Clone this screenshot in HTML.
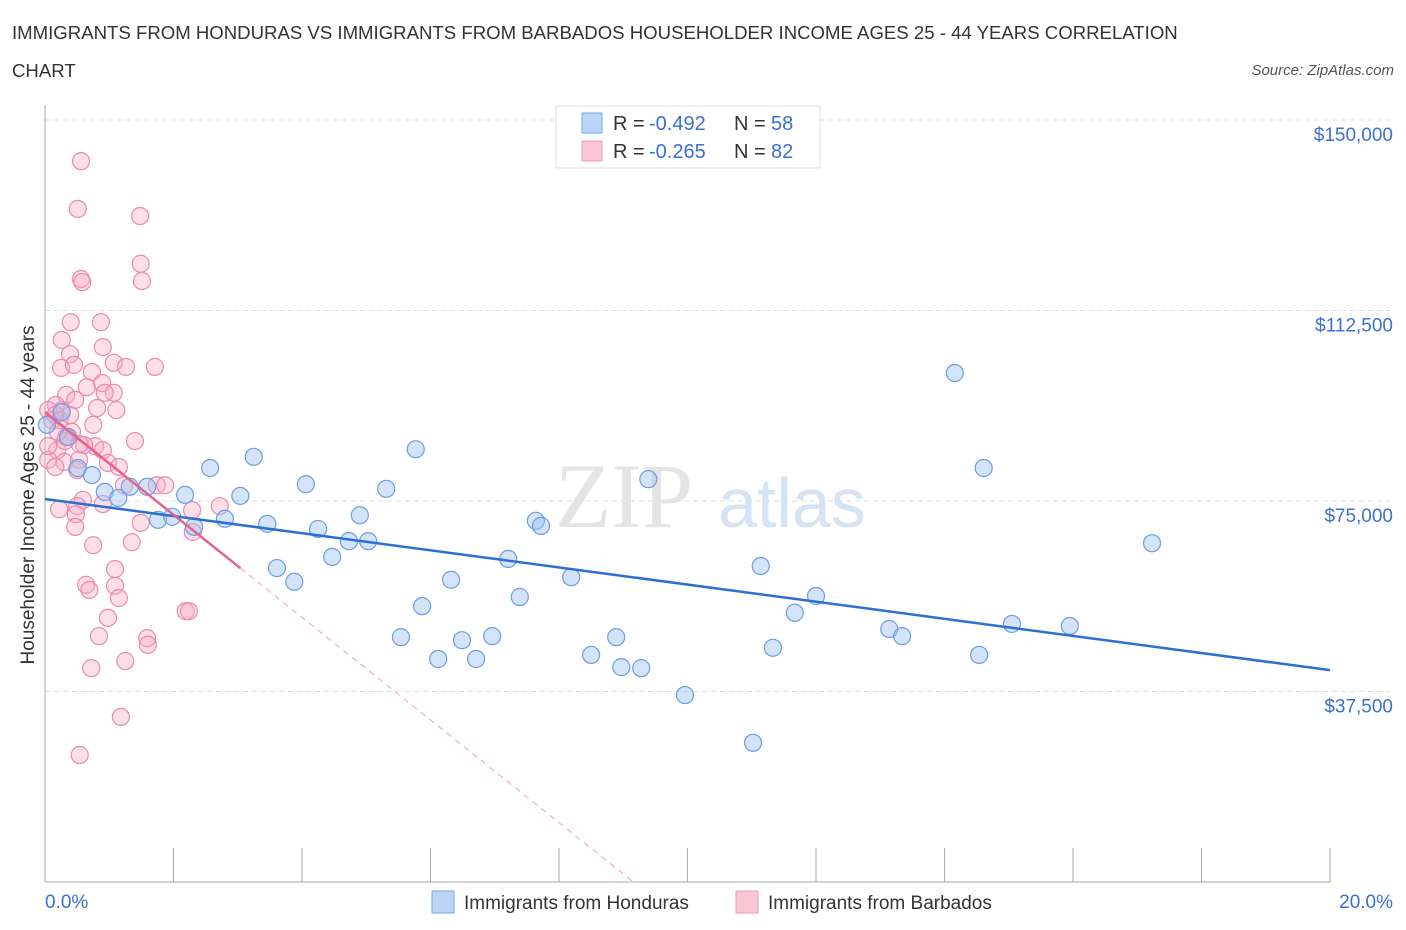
<!DOCTYPE html>
<html><head><meta charset="utf-8">
<style>
body{margin:0;background:#fff;font-family:"Liberation Sans",sans-serif;}
.wrap{position:relative;width:1406px;height:930px;overflow:hidden;}
.title{position:absolute;left:12px;top:14px;font-size:18.6px;color:#333;line-height:38px;width:1195px;}
.src{position:absolute;right:12px;top:62px;font-size:15px;color:#555;font-style:italic;}
</style></head>
<body>
<div class="wrap">
<div class="title">IMMIGRANTS FROM HONDURAS VS IMMIGRANTS FROM BARBADOS HOUSEHOLDER INCOME AGES 25 - 44 YEARS CORRELATION CHART</div>
<div class="src">Source: ZipAtlas.com</div>
<svg id="chart" width="1406" height="930" style="position:absolute;left:0;top:0"></svg>
</div>
<script>
const blueX=[0.03,0.26,0.36,0.51,0.73,0.93,1.14,1.32,1.59,1.76,1.98,2.18,2.32,2.57,2.80,3.04,3.25,3.46,3.61,3.88,4.06,4.25,4.47,4.73,4.90,5.03,5.31,5.54,5.77,5.87,6.12,6.32,6.49,6.71,6.96,7.21,7.39,7.64,7.72,8.19,8.50,8.89,8.97,9.28,9.39,9.96,11.02,11.14,11.33,11.67,12.00,13.14,13.34,14.16,14.54,14.61,15.05,15.95,17.23];
const blueY=[90.0,92.5,87.6,81.5,80.1,76.8,75.6,77.8,77.8,71.3,71.9,76.2,69.9,81.5,71.5,76.0,83.7,70.5,61.8,59.1,78.3,69.5,64.0,67.1,72.2,67.1,77.4,48.2,85.2,54.3,43.9,59.5,47.6,43.9,48.4,63.6,56.1,71.1,70.1,60.0,44.7,48.2,42.3,42.1,79.3,36.8,27.4,62.2,46.1,53.0,56.3,49.8,48.4,100.2,44.7,81.5,50.8,50.4,66.7];
const pinkX=[0.56,0.51,1.48,1.49,1.51,0.56,0.58,0.40,0.87,0.26,0.39,0.90,0.25,0.45,0.73,1.07,1.26,1.71,0.65,0.89,1.07,0.93,0.33,0.81,1.11,0.26,0.47,0.17,0.05,0.11,0.23,0.39,0.75,0.42,0.78,1.40,0.90,0.98,1.15,1.74,0.33,0.61,0.19,0.30,0.05,0.54,0.53,0.16,0.50,1.23,1.87,2.72,0.90,0.59,0.50,0.22,0.48,0.47,1.49,2.29,2.30,0.75,1.35,1.09,0.64,0.69,1.09,1.15,0.98,0.84,1.59,1.60,2.19,2.24,0.72,1.25,1.18,0.54,0.16,0.31,0.05,0.20];
const pinkY=[141.9,132.5,131.1,121.7,118.3,118.7,118.1,110.2,110.2,106.7,103.9,105.3,101.2,101.8,100.4,102.2,101.4,101.4,97.4,98.2,96.3,96.3,95.9,93.3,92.9,92.9,94.9,93.9,92.9,90.9,90.9,91.9,90.0,88.6,85.8,86.8,85.0,82.5,81.7,78.1,87.6,86.0,85.0,82.7,83.1,86.2,83.1,81.7,81.1,78.1,78.1,74.0,74.4,75.2,74.0,73.4,72.4,69.9,70.7,73.2,68.9,66.3,66.9,61.6,58.5,57.5,58.3,55.9,52.0,48.4,48.0,46.7,53.3,53.3,42.1,43.5,32.5,25.0,91.9,86.8,85.8,88.6];
const blueTrend=[75.4,-1.685];
const pinkTrend=[92.5,-10.1];
const pinkSolidEnd=3.04;
const yTicks=[37.5,75,112.5,150];
const yTickLabels=["$37,500","$75,000","$112,500","$150,000"];
const xTicks=[0,2,4,6,8,10,12,14,16,18,20];

const NS="http://www.w3.org/2000/svg";
const svg=document.getElementById('chart');
const X0=45,X1=1330,Y0=882;
const sx=v=>X0+(v/20)*(X1-X0);
const sy=v=>Y0-v*(190.5/37.5);
function mk(t,a,p){const e=document.createElementNS(NS,t);for(const k in a)e.setAttribute(k,a[k]);(p||svg).appendChild(e);return e;}

yTicks.forEach((t,i)=>{
 const g=mk('line',{x1:X0,x2:1390,y1:sy(t),y2:sy(t),stroke:'#ddd','stroke-dasharray':'5,4'});
 
 
 const tx=mk('text',{x:1393,y:sy(t)+21,'text-anchor':'end','font-size':19,fill:'#3b6fd4','font-family':'Liberation Sans, sans-serif'});
 tx.textContent=yTickLabels[i];
 
 
});
const ax=mk('line',{x1:X0,x2:X0,y1:105,y2:Y0,stroke:'#aaa'});


const axx=mk('line',{x1:X0,x2:X1,y1:Y0,y2:Y0,stroke:'#aaa'});


xTicks.forEach(t=>{
 const l=mk('line',{x1:sx(t),x2:sx(t),y1:Y0,y2:Y0-(t===0?0:34),stroke:'#aaa'});
 
 
});
const xl=mk('text',{x:45,y:908,'font-size':19,fill:'#3b6fd4'});xl.textContent='0.0%';


const xr=mk('text',{x:1393,y:908,'font-size':19,fill:'#3b6fd4','text-anchor':'end'});xr.textContent='20.0%';


const yt=mk('text',{transform:'translate(34,495) rotate(-90)','text-anchor':'middle','font-size':19,fill:'#333'});yt.textContent='Householder Income Ages 25 - 44 years';


const wm=mk('text',{x:555,y:527,'font-size':92,fill:'#e4e4e4','font-family':'Liberation Serif, serif'});wm.textContent='ZIP';


const wm2=mk('text',{x:718,y:527,'font-size':70,fill:'#d6e3f5'});wm2.textContent='atlas';



pinkX.forEach((x,i)=>{
 const c=mk('circle',{cx:sx(x),cy:sy(pinkY[i]),r:8.5,fill:'rgba(246,172,196,0.38)',stroke:'#ec8aab','stroke-width':1.2});
 
 
});
blueX.forEach((x,i)=>{
 const c=mk('circle',{cx:sx(x),cy:sy(blueY[i]),r:8.5,fill:'rgba(160,196,240,0.45)',stroke:'#6c9de2','stroke-width':1.2});
 
 
});
const bt=mk('line',{x1:sx(0),y1:sy(blueTrend[0]),x2:sx(20),y2:sy(blueTrend[0]+blueTrend[1]*20),stroke:'#2a6fd6','stroke-width':2.5});


const pEndY=pinkTrend[0]+pinkTrend[1]*pinkSolidEnd;
const pt=mk('line',{x1:sx(0),y1:sy(pinkTrend[0]),x2:sx(pinkSolidEnd),y2:sy(pEndY),stroke:'#e4628d','stroke-width':2.5});


const zeroX=-pinkTrend[0]/pinkTrend[1];
const pd=mk('line',{x1:sx(pinkSolidEnd),y1:sy(pEndY),x2:sx(zeroX),y2:sy(0),stroke:'#eea0b8','stroke-width':1,'stroke-dasharray':'6,5'});



const lg=mk('rect',{x:556,y:106,width:264,height:62,fill:'#fff',stroke:'#ddd'});


[[{f:'#bcd4f6',s:'#7aa6e6'},'-0.492','58',123],[{f:'#f9c6d6',s:'#ef9ab5'},'-0.265','82',151]].forEach(r=>{
 const b=mk('rect',{x:582,y:r[3]-10,width:20,height:20,fill:r[0].f,stroke:r[0].s});
 
 
 const t=mk('text',{x:613,y:r[3]+7,'font-size':20,fill:'#333'});
 t.innerHTML='R = <tspan x="649" fill="#3b6fd4">'+r[1]+'</tspan><tspan x="734">N = </tspan><tspan x="771" fill="#3b6fd4">'+r[2]+'</tspan>';
 
 
});
[[432,'#bcd4f6','#7aa6e6','Immigrants from Honduras','legend-entry-honduras'],[736,'#f9c6d6','#ef9ab5','Immigrants from Barbados','legend-entry-barbados']].forEach(r=>{
 const b=mk('rect',{x:r[0],y:891,width:22,height:22,fill:r[1],stroke:r[2]});
 
 
 const t=mk('text',{x:r[0]+32,y:909,'font-size':19,fill:'#333'});t.textContent=r[3];
 
 
});
</script>
</body></html>
